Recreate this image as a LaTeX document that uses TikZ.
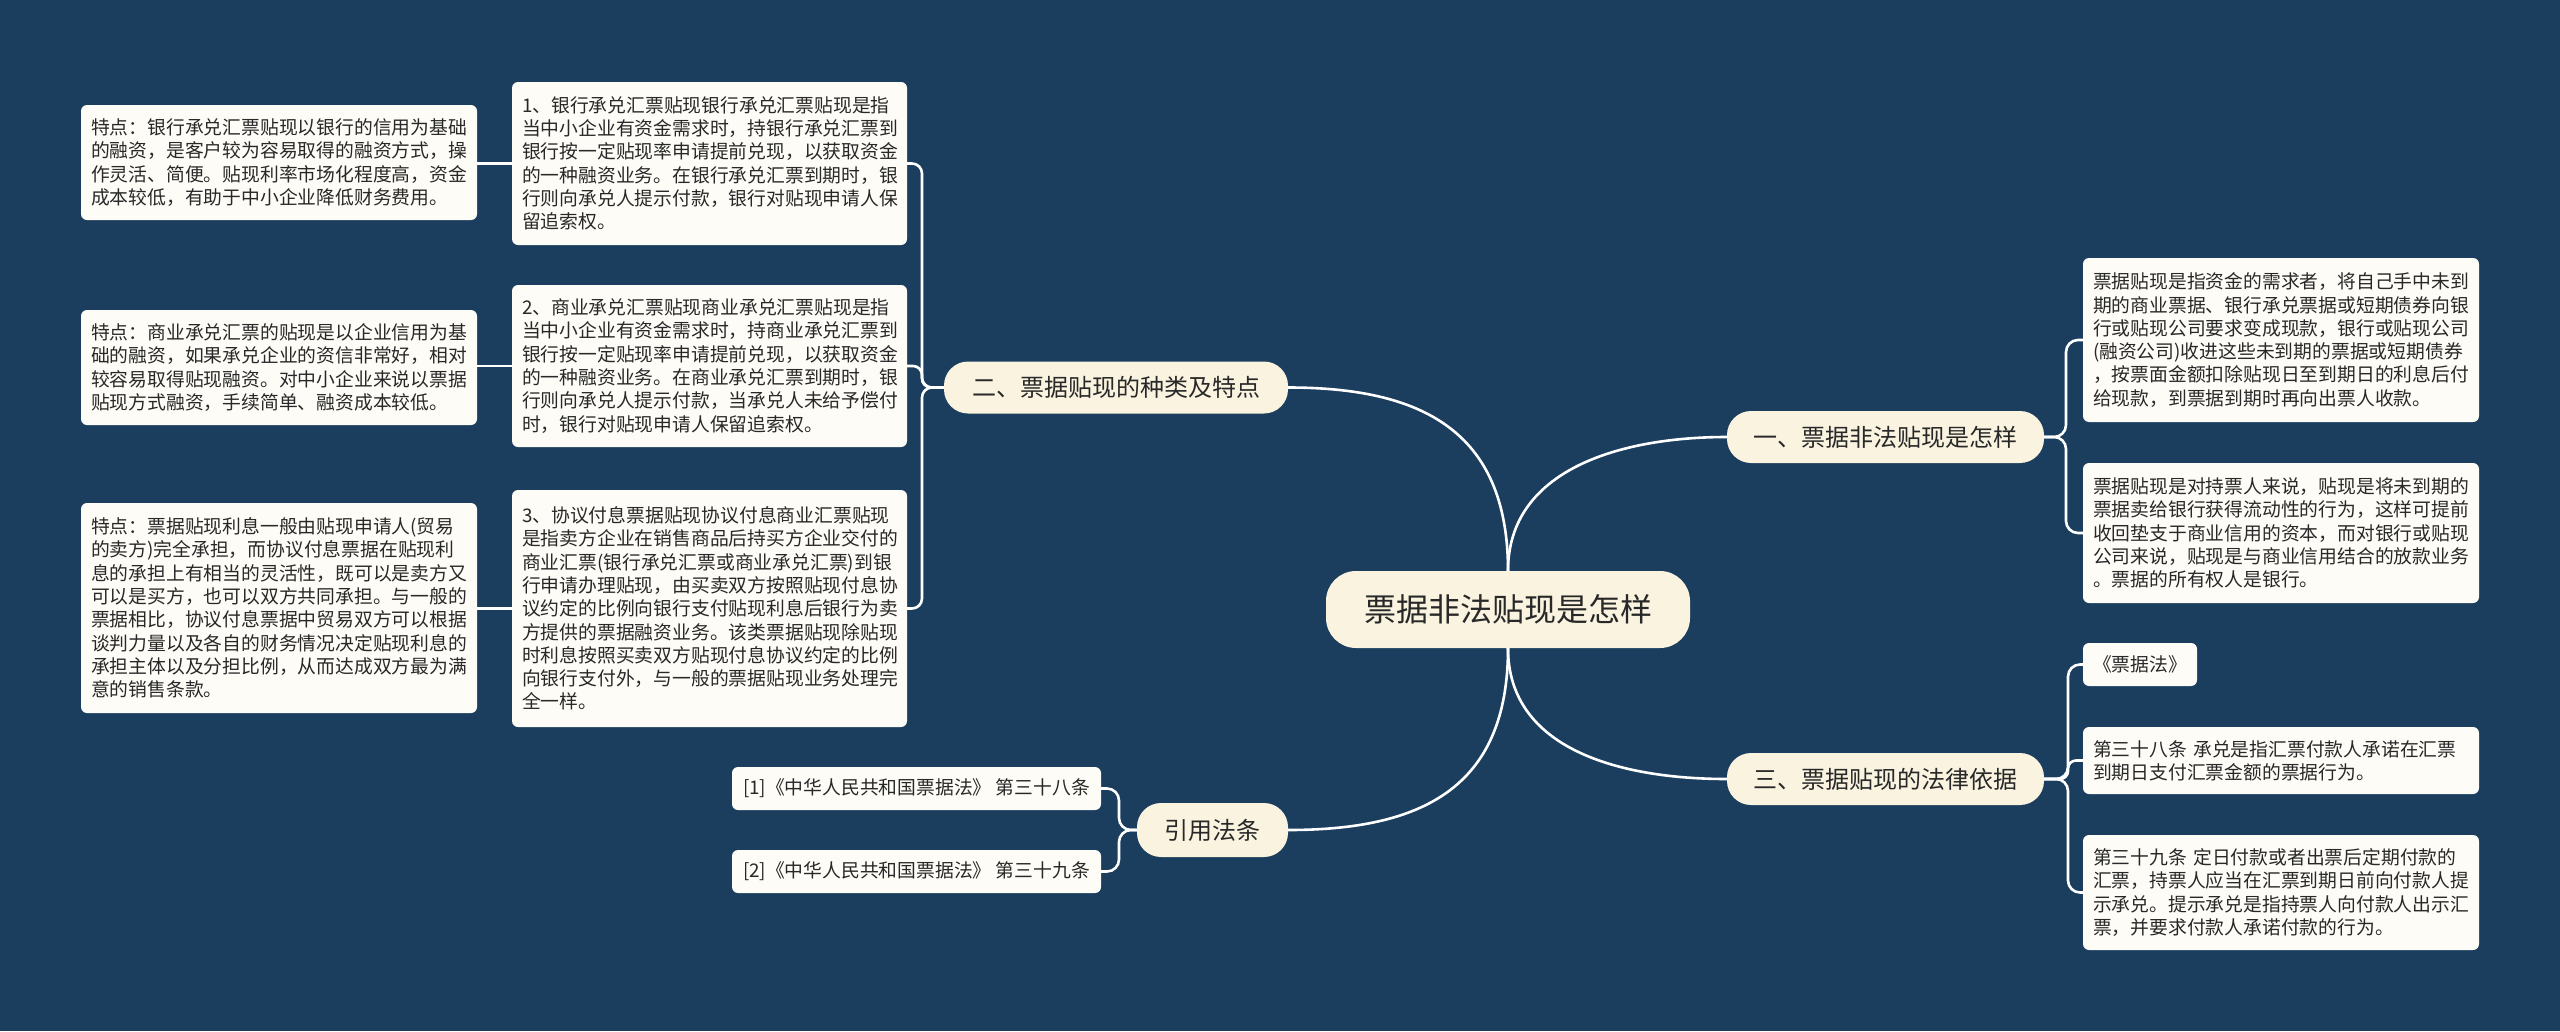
\documentclass[tikz,border=0pt]{standalone}
\usepackage{fontspec}
\setmainfont{Noto Sans CJK SC}
\definecolor{bg}{RGB}{27,61,94}
\definecolor{leafc}{RGB}{253,252,246}
\definecolor{mainc}{RGB}{249,243,224}
\definecolor{txt}{RGB}{40,40,40}
\newcommand\leaffont{\fontsize{18.8pt}{23.3pt}\selectfont}
\newcommand\branchfont{\fontsize{24pt}{28pt}\selectfont}
\newcommand\centerfont{\fontsize{32pt}{38pt}\selectfont}
\begin{document}
\begin{tikzpicture}[x=1pt,y=-1pt,
  conn/.style={draw=white, line width=2.6pt},
  leaf/.style={fill=leafc, rounded corners=6pt, text=txt, font=\leaffont, align=left, inner xsep=10pt, inner ysep=0pt},
  mainnode/.style={fill=mainc, rounded corners=24pt, text=txt, inner sep=0pt, font=\branchfont, minimum height=52pt},
]
\fill[bg] (0,0) rectangle (2560,1031);
\useasboundingbox (0,0) rectangle (2560,1031);

% main nodes
\node[mainnode, minimum width=364pt, minimum height=77pt, font=\centerfont, rounded corners=30pt] (ctr) at (1508,609.5) {票据非法贴现是怎样};
\node[mainnode, minimum width=344pt] (b2) at (1116,387.5) {二、票据贴现的种类及特点};
\node[mainnode, minimum width=317pt] (b1) at (1885.5,437) {一、票据非法贴现是怎样};
\node[mainnode, minimum width=317pt] (b3) at (1885.5,779) {三、票据贴现的法律依据};
\node[mainnode, minimum width=151pt, minimum height=54pt] (yin) at (1212.5,830) {引用法条};

% left: level 2
\node[leaf, text width=375pt, minimum height=163pt] (L1) at (709.5,163.5) {1、银行承兑汇票贴现银行承兑汇票贴现是指\\当中小企业有资金需求时，持银行承兑汇票到\\银行按一定贴现率申请提前兑现，以获取资金\\的一种融资业务。在银行承兑汇票到期时，银\\行则向承兑人提示付款，银行对贴现申请人保\\留追索权。};
\node[leaf, text width=375pt, minimum height=162pt] (L2) at (709.5,366) {2、商业承兑汇票贴现商业承兑汇票贴现是指\\当中小企业有资金需求时，持商业承兑汇票到\\银行按一定贴现率申请提前兑现，以获取资金\\的一种融资业务。在商业承兑汇票到期时，银\\行则向承兑人提示付款，当承兑人未给予偿付\\时，银行对贴现申请人保留追索权。};
\node[leaf, text width=375pt, minimum height=237pt] (L3) at (709.5,608.5) {3、协议付息票据贴现协议付息商业汇票贴现\\是指卖方企业在销售商品后持买方企业交付的\\商业汇票(银行承兑汇票或商业承兑汇票)到银\\行申请办理贴现，由买卖双方按照贴现付息协\\议约定的比例向银行支付贴现利息后银行为卖\\方提供的票据融资业务。该类票据贴现除贴现\\时利息按照买卖双方贴现付息协议约定的比例\\向银行支付外，与一般的票据贴现业务处理完\\全一样。};

% left: level 3
\node[leaf, text width=376pt, minimum height=115pt] (F1) at (279,162.5) {特点：银行承兑汇票贴现以银行的信用为基础\\的融资，是客户较为容易取得的融资方式，操\\作灵活、简便。贴现利率市场化程度高，资金\\成本较低，有助于中小企业降低财务费用。};
\node[leaf, text width=376pt, minimum height=115pt] (F2) at (279,367.5) {特点：商业承兑汇票的贴现是以企业信用为基\\础的融资，如果承兑企业的资信非常好，相对\\较容易取得贴现融资。对中小企业来说以票据\\贴现方式融资，手续简单、融资成本较低。};
\node[leaf, text width=376pt, minimum height=210pt] (F3) at (279,608) {特点：票据贴现利息一般由贴现申请人(贸易\\的卖方)完全承担，而协议付息票据在贴现利\\息的承担上有相当的灵活性，既可以是卖方又\\可以是买方，也可以双方共同承担。与一般的\\票据相比，协议付息票据中贸易双方可以根据\\谈判力量以及各自的财务情况决定贴现利息的\\承担主体以及分担比例，从而达成双方最为满\\意的销售条款。};

% right
\node[leaf, text width=376pt, minimum height=164pt] (R1) at (2281,340) {票据贴现是指资金的需求者，将自己手中未到\\期的商业票据、银行承兑票据或短期债券向银\\行或贴现公司要求变成现款，银行或贴现公司\\(融资公司)收进这些未到期的票据或短期债券\\，按票面金额扣除贴现日至到期日的利息后付\\给现款，到票据到期时再向出票人收款。};
\node[leaf, text width=376pt, minimum height=140pt] (R2) at (2281,533) {票据贴现是对持票人来说，贴现是将未到期的\\票据卖给银行获得流动性的行为，这样可提前\\收回垫支于商业信用的资本，而对银行或贴现\\公司来说，贴现是与商业信用结合的放款业务\\。票据的所有权人是银行。};
\node[leaf, minimum width=114pt, minimum height=43pt] (R3) at (2140,664.5) {《票据法》};
\node[leaf, text width=376pt, minimum height=67pt] (R4) at (2281,760.5) {第三十八条 承兑是指汇票付款人承诺在汇票\\到期日支付汇票金额的票据行为。};
\node[leaf, text width=376pt, minimum height=115pt] (R5) at (2281,892.5) {第三十九条 定日付款或者出票后定期付款的\\汇票，持票人应当在汇票到期日前向付款人提\\示承兑。提示承兑是指持票人向付款人出示汇\\票，并要求付款人承诺付款的行为。};

% citations
\node[leaf, minimum width=369pt, minimum height=43pt] (C1) at (916.5,788.5) {[1]《中华人民共和国票据法》 第三十八条};
\node[leaf, minimum width=369pt, minimum height=43pt] (C2) at (916.5,871.5) {[2]《中华人民共和国票据法》 第三十九条};

% junctions
\coordinate (J2) at (922,387.5);
\coordinate (J1) at (2066,437);
\coordinate (J3) at (2068,779);
\coordinate (JY) at (1119,830);

% center connectors
\draw[conn] (b2.east) .. controls +(132,0) and +(0,-141) .. (ctr.north);
\draw[conn] (b1.west) .. controls +(-107,0) and +(0,-101) .. (ctr.north);
\draw[conn] (b3.west) .. controls +(-107,0) and +(0,101) .. (ctr.south);
\draw[conn] (yin.east) .. controls +(132,0) and +(0,141) .. (ctr.south);

% brackets
\draw[conn, rounded corners=10pt] (b2.west) -- (J2) |- (L1.east);
\draw[conn, rounded corners=9pt] (b2.west) -- (J2) |- (L2.east);
\draw[conn, rounded corners=10pt] (b2.west) -- (J2) |- (L3.east);

\draw[conn, rounded corners=12pt] (b1.east) -- (J1) |- (R1.west);
\draw[conn, rounded corners=12pt] (b1.east) -- (J1) |- (R2.west);

\draw[conn, rounded corners=12pt] (b3.east) -- (J3) |- (R3.west);
\draw[conn, rounded corners=8pt] (b3.east) -- (J3) |- (R4.west);
\draw[conn, rounded corners=12pt] (b3.east) -- (J3) |- (R5.west);

\draw[conn, rounded corners=12pt] (yin.west) -- (JY) |- (C1.east);
\draw[conn, rounded corners=12pt] (yin.west) -- (JY) |- (C2.east);

% leaf to feature
\draw[conn] (L1.west) -- (L1.west -| F1.east);
\draw[conn] (L2.west) -- (L2.west -| F2.east);
\draw[conn] (L3.west) -- (L3.west -| F3.east);
\end{tikzpicture}
\end{document}
